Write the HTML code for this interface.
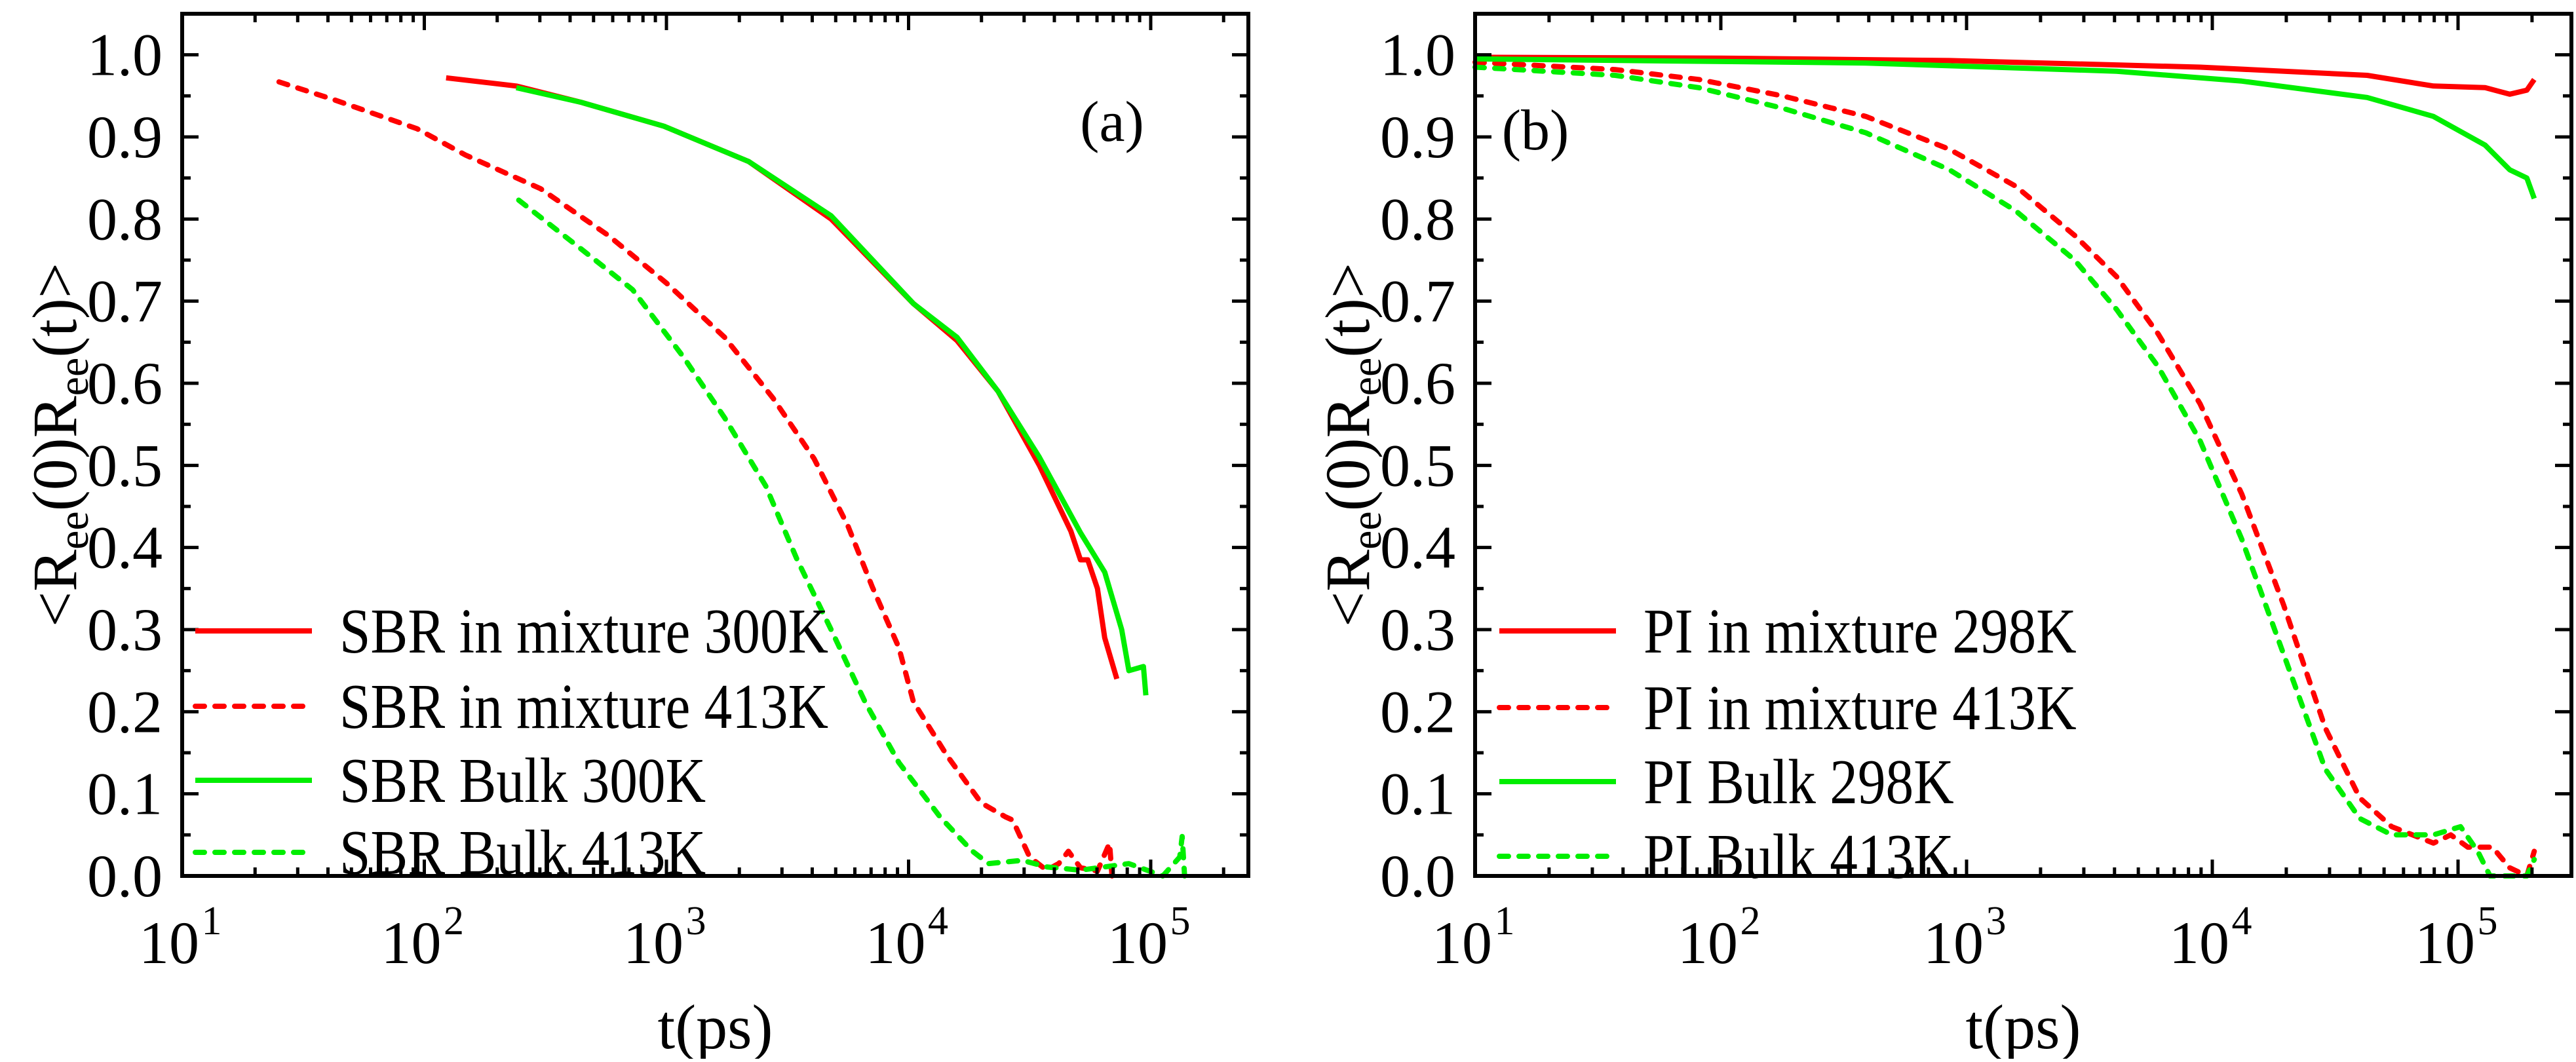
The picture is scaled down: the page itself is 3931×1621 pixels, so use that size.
<!DOCTYPE html>
<html><head><meta charset="utf-8"><style>
html,body{margin:0;padding:0;background:#fff;}
svg, svg text{font-family:"Liberation Serif","Noto Serif CJK SC","DejaVu Serif",serif;}
</style></head><body>
<svg id="fig" width="3931" height="1616" viewBox="0 0 3931 1616" xmlns="http://www.w3.org/2000/svg">
<g id="pa"></g>
<g id="pb"></g>
</svg>
<script>
// Panel (a) data: log10(t/ps) and correlation values
const aMix300LogT=[2.09,2.38,2.65,2.99,3.34,3.68,4.02,4.20,4.37,4.54,4.67,4.71,4.74,4.78,4.81,4.85,4.86];
const aMix300Val=[0.972,0.962,0.942,0.913,0.87,0.80,0.697,0.652,0.59,0.50,0.42,0.385,0.385,0.35,0.29,0.25,0.24];
const aMix413LogT=[1.40,1.63,1.97,2.17,2.48,2.76,3.0,3.24,3.44,3.61,3.75,3.85,3.96,4.02,4.16,4.30,4.40,4.43,4.50,4.57,4.62,4.66,4.71,4.78,4.83,4.84];
const aMix413Val=[0.967,0.945,0.91,0.878,0.837,0.78,0.722,0.656,0.582,0.508,0.426,0.352,0.278,0.212,0.146,0.089,0.072,0.068,0.023,0.007,0.015,0.03,0.01,0.006,0.04,0.0];
const aBulk300LogT=[2.38,2.65,2.99,3.34,3.68,4.02,4.20,4.37,4.54,4.71,4.81,4.88,4.91,4.97,4.98];
const aBulk300Val=[0.96,0.942,0.913,0.87,0.804,0.697,0.656,0.59,0.51,0.418,0.37,0.30,0.25,0.255,0.22];
const aBulk413LogT=[2.39,2.65,2.86,3.07,3.24,3.41,3.54,3.68,3.82,3.96,4.13,4.26,4.33,4.47,4.57,4.71,4.91,5.05,5.12,5.13,5.14];
const aBulk413Val=[0.823,0.763,0.714,0.632,0.558,0.475,0.385,0.30,0.212,0.138,0.072,0.031,0.015,0.019,0.011,0.007,0.015,0.0,0.023,0.048,0.0];
// Panel (b) data
const bMix298LogT=[1.0,2.0,2.93,3.95,4.63,4.90,5.11,5.21,5.28,5.31];
const bMix298Val=[0.997,0.996,0.993,0.985,0.975,0.962,0.96,0.952,0.957,0.97];
const bMix413LogT=[1.0,1.57,1.91,2.25,2.59,2.93,3.20,3.44,3.61,3.78,3.95,4.12,4.29,4.46,4.60,4.73,4.90,4.97,5.04,5.14,5.21,5.28,5.31];
const bMix413Val=[0.991,0.982,0.97,0.95,0.925,0.885,0.84,0.78,0.73,0.66,0.575,0.465,0.33,0.18,0.095,0.06,0.04,0.05,0.035,0.035,0.01,0.0,0.03];
const bBulk298LogT=[1.0,2.59,3.61,4.12,4.63,4.90,5.11,5.21,5.28,5.31];
const bBulk298Val=[0.995,0.99,0.98,0.968,0.948,0.925,0.89,0.86,0.85,0.825];
const bBulk413LogT=[1.0,1.57,1.91,2.25,2.59,2.93,3.20,3.44,3.61,3.78,3.95,4.12,4.29,4.46,4.60,4.73,4.90,5.01,5.08,5.13,5.28,5.31];
const bBulk413Val=[0.985,0.975,0.96,0.935,0.905,0.86,0.81,0.75,0.69,0.62,0.53,0.41,0.27,0.13,0.07,0.05,0.05,0.06,0.03,0.0,0.0,0.02];
const yTicks=["0.0","0.1","0.2","0.3","0.4","0.5","0.6","0.7","0.8","0.9","1.0"];
const xDecades=[1,2,3,4,5];
const legendA=["SBR in mixture 300K","SBR in mixture 413K","SBR Bulk 300K","SBR Bulk 413K"];
const legendB=["PI in mixture 298K","PI in mixture 413K","PI Bulk 298K","PI Bulk 413K"];

const NS="http://www.w3.org/2000/svg";
function mk(tag,attrs,parent){const e=document.createElementNS(NS,tag);for(const k in attrs)e.setAttribute(k,attrs[k]);if(tag==="text")e.style.fontFamily='"Liberation Serif","Noto Serif CJK SC","DejaVu Serif",serif';parent.appendChild(e);return e;}
function squeeze(e,f){try{const l=e.getComputedTextLength();if(l>0){e.setAttribute("textLength",(l*f).toFixed(1));e.setAttribute("lengthAdjust","spacingAndGlyphs");}}catch(err){}}

function panel(g,cfg){
  const L=cfg.left,R=cfg.right,T=21,B=1337;
  const xs=lt=>L+(lt-1)*cfg.dec;
  const ys=v=>B-v*(B-T)/1.05;
  cfg.series.forEach(s=>{
    const d=s.lt.map((t,i)=>(i?"L":"M")+xs(t).toFixed(1)+","+ys(s.v[i]).toFixed(1)).join("");
    const p=mk("path",{d:d,fill:"none",stroke:s.c,"stroke-width":8,"stroke-linejoin":"round","stroke-linecap":s.dash?"round":"butt"},g);
    if(s.dash)p.setAttribute("stroke-dasharray","14 16");
    
    
  });
  const tk=mk("g",{stroke:"#000","stroke-width":5},g);
  
  
  for(let i=0;i<=21;i++){const y=ys(i*0.05),len=i%2?13:25;
    mk("line",{x1:L,x2:L+len,y1:y,y2:y},tk);mk("line",{x1:R,x2:R-len,y1:y,y2:y},tk);}
  for(let d=1;d<=5;d++){for(let m=1;m<10;m++){const lt=d+Math.log10(m);const x=xs(lt);if(x>R-3)continue;const len=m===1?25:13;
    mk("line",{x1:x,x2:x,y1:B,y2:B-len},tk);mk("line",{x1:x,x2:x,y1:T,y2:T+len},tk);}}
  const fr=mk("rect",{x:L,y:T,width:R-L,height:B-T,fill:"none",stroke:"#000","stroke-width":6},g);
  
  
  yTicks.forEach((t,i)=>{const e=mk("text",{x:L-30,y:ys(i*0.1)+31,"text-anchor":"end","font-size":92},g);e.textContent=t;
    
    });
  xDecades.forEach(d=>{const x=xs(d);const e=mk("text",{x:x-20,y:1470,"text-anchor":"middle","font-size":92},g);
    e.textContent="10";
    
    
    const s=mk("tspan",{x:x+45,dy:-44,"font-size":62},e);s.textContent=String(d);});
  const xt=mk("text",{x:(L+R)/2,y:1600,"text-anchor":"middle","font-size":96},g);xt.textContent="t(ps)";
  
  
  const yt=mk("text",{x:0,y:0,"text-anchor":"middle","font-size":96,transform:`translate(${L-162},${(T+B)/2}) rotate(-90)`},g);
  
  
  yt.innerHTML='&lt;R<tspan font-size="66" dy="18">ee</tspan><tspan dy="-18">(0)R</tspan><tspan font-size="66" dy="18">ee</tspan><tspan dy="-18">(t)&gt;</tspan>';
  const pl=mk("text",{x:cfg.lab[0],y:cfg.lab[1],"text-anchor":"middle","font-size":88},g);pl.textContent=cfg.label;
  
  
  cfg.legend.forEach((t,i)=>{const y=cfg.legY[i];const s=cfg.series[i];
    const ln=mk("line",{x1:cfg.legX,x2:cfg.legX+178,y1:y,y2:y,stroke:s.c,"stroke-width":8,"stroke-linecap":s.dash?"round":"butt"},g);
    if(s.dash)ln.setAttribute("stroke-dasharray","14 16");
    
    
    const e=mk("text",{x:cfg.legX+220,y:y+33,"font-size":98},g);e.textContent=t;
    
    
    squeeze(e,0.87);});
}
panel(document.getElementById("pa"),{left:278,right:1905,dec:369.5,label:"(a)",lab:[1697,215],legX:298,legY:[963,1078,1191,1301],legend:legendA,
 series:[{lt:aMix300LogT,v:aMix300Val,c:"#ff0000",dash:false,name:"line-sbr-mixture-300k"},
 {lt:aMix413LogT,v:aMix413Val,c:"#ff0000",dash:true,name:"line-sbr-mixture-413k"},
 {lt:aBulk300LogT,v:aBulk300Val,c:"#00ee00",dash:false,name:"line-sbr-bulk-300k"},
 {lt:aBulk413LogT,v:aBulk413Val,c:"#00ee00",dash:true,name:"line-sbr-bulk-413k"}]});
panel(document.getElementById("pb"),{left:2251,right:3924,dec:375,label:"(b)",lab:[2343,228],legX:2288,legY:[963,1080,1193,1307],legend:legendB,
 series:[{lt:bMix298LogT,v:bMix298Val,c:"#ff0000",dash:false,name:"line-pi-mixture-298k"},
 {lt:bMix413LogT,v:bMix413Val,c:"#ff0000",dash:true,name:"line-pi-mixture-413k"},
 {lt:bBulk298LogT,v:bBulk298Val,c:"#00ee00",dash:false,name:"line-pi-bulk-298k"},
 {lt:bBulk413LogT,v:bBulk413Val,c:"#00ee00",dash:true,name:"line-pi-bulk-413k"}]});
</script>
</body></html>
